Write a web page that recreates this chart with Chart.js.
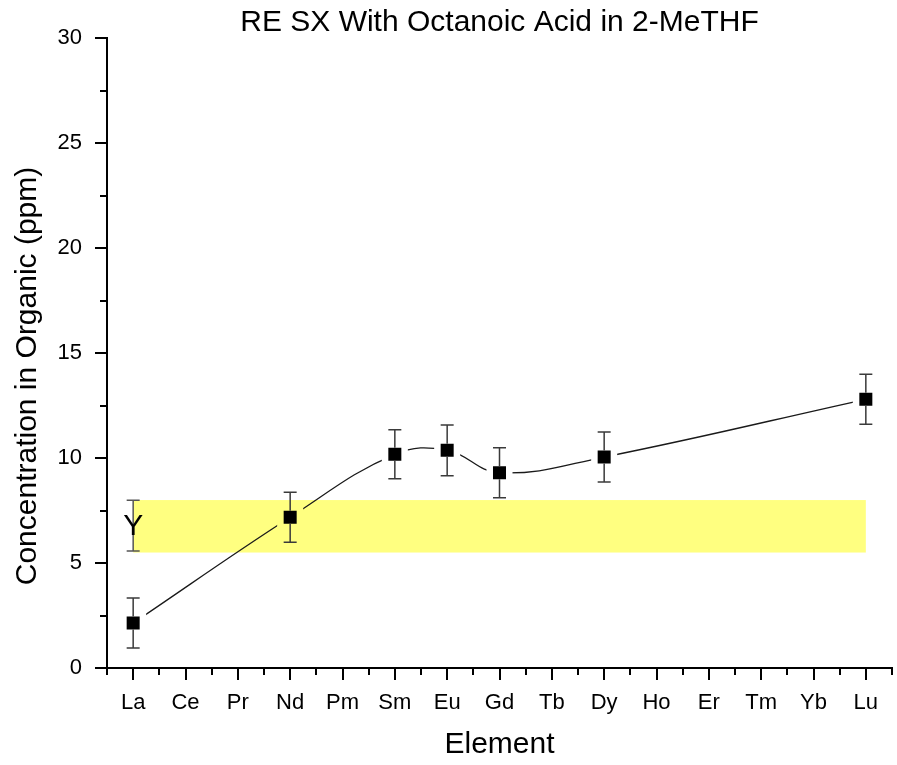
<!DOCTYPE html>
<html>
<head>
<meta charset="utf-8">
<script src="https://cdn.jsdelivr.net/npm/chart.js@4/dist/chart.umd.min.js"></script>
<style>
  html, body { margin: 0; padding: 0; background: #fff; }
  canvas { display: block; }
</style>
</head>
<body>
<canvas id="chart" width="897" height="765"></canvas>
<script>
// Rare-earth elements on the x axis
const elements = ['La', 'Ce', 'Pr', 'Nd', 'Pm', 'Sm', 'Eu', 'Gd', 'Tb', 'Dy', 'Ho', 'Er', 'Tm', 'Yb', 'Lu'];
// Measured concentration in the organic phase (ppm); null = not measured
const concentration = [2.14, null, null, 7.18, null, 10.18, 10.37, 9.30, null, 10.05, null, null, null, null, 12.80];
// Error bar half-heights (ppm)
const concentrationErr = [1.19, null, null, 1.19, null, 1.17, 1.21, 1.19, null, 1.19, null, null, null, null, 1.19];
// Yttrium reference value, shown as a labelled band across the plot
const yttriumLabel = 'Y';
const yttriumValue = 6.78;
const yttriumErr = 1.21;
const yttriumBand = [5.5, 8.0];
// Y axis range and tick spacing
const yMin = 0, yMax = 30, yMajor = 5, yMinor = 2.5;

const FONT = "'Liberation Sans', Arial, Helvetica, sans-serif";
const TITLE = 'RE SX With Octanoic Acid in 2-MeTHF';
const Y_TITLE = 'Concentration in Organic (ppm)';
const BAND_COLOR = '#ffff80';
const MARK_HALF = 6.5;

const inBand = v => v !== null && v > yttriumBand[0] && v < yttriumBand[1];

// Yellow band spanning La..Lu between the yttrium limits
const bandPlugin = {
  id: 'yttriumBand',
  beforeDatasetsDraw(chart) {
    const { ctx, scales: { x, y } } = chart;
    const x0 = x.getPixelForValue(0);
    const x1 = x.getPixelForValue(elements.length - 1);
    const yTop = y.getPixelForValue(yttriumBand[1]);
    const yBot = y.getPixelForValue(yttriumBand[0]);
    ctx.save();
    ctx.fillStyle = BAND_COLOR;
    ctx.fillRect(x0, yTop, x1 - x0, yBot - yTop);
    ctx.restore();
  }
};

function drawErrorBar(ctx, px, top, mid, bot, gap) {
  const cap = 6.5;
  ctx.beginPath();
  ctx.moveTo(px, top); ctx.lineTo(px, mid - gap);
  ctx.moveTo(px, mid + gap); ctx.lineTo(px, bot);
  ctx.moveTo(px - cap, top); ctx.lineTo(px + cap, top);
  ctx.moveTo(px - cap, bot); ctx.lineTo(px + cap, bot);
  ctx.stroke();
}

// Error bars, the Y label and its error bar
const errorPlugin = {
  id: 'errorBars',
  afterDatasetsDraw(chart) {
    const { ctx, scales: { x, y } } = chart;
    ctx.save();
    ctx.strokeStyle = '#3a3a3a';
    ctx.lineWidth = 1.5;
    concentration.forEach((v, i) => {
      if (v === null) return;
      const e = concentrationErr[i];
      const px = x.getPixelForValue(i);
      drawErrorBar(ctx, px, y.getPixelForValue(v + e), y.getPixelForValue(v), y.getPixelForValue(v - e), MARK_HALF);
    });
    // yttrium
    const yi = elements.indexOf('La');
    const ypx = x.getPixelForValue(yi);
    ctx.strokeStyle = '#555';
    drawErrorBar(ctx, ypx, y.getPixelForValue(yttriumValue + yttriumErr), y.getPixelForValue(yttriumValue),
      y.getPixelForValue(yttriumValue - yttriumErr), 0);
    ctx.fillStyle = '#000';
    ctx.font = '30px ' + FONT;
    ctx.textAlign = 'center';
    ctx.textBaseline = 'middle';
    ctx.fillText(yttriumLabel, ypx, y.getPixelForValue(yttriumValue) + 1);
    ctx.restore();
  }
};

// Outward major/minor tick marks and the chart/axis titles
const framePlugin = {
  id: 'frame',
  afterDraw(chart) {
    const { ctx, chartArea: a, scales: { x, y } } = chart;
    ctx.save();
    ctx.strokeStyle = '#000';
    ctx.lineWidth = 2;
    ctx.beginPath();
    for (let v = yMin; v <= yMax + 1e-9; v += yMinor) {
      const py = Math.round(y.getPixelForValue(v));
      const len = Math.abs(v / yMajor - Math.round(v / yMajor)) < 1e-9 ? 12 : 7;
      ctx.moveTo(a.left - len, py); ctx.lineTo(a.left, py);
    }
    for (let i = 0; i < elements.length; i++) {
      const px = Math.round(x.getPixelForValue(i));
      ctx.moveTo(px, a.bottom); ctx.lineTo(px, a.bottom + 12);
    }
    for (let i = 0; i <= elements.length; i++) {
      const px = Math.round(x.getPixelForValue(i - 0.5));
      ctx.moveTo(px, a.bottom); ctx.lineTo(px, a.bottom + 7);
    }
    ctx.stroke();

    ctx.fillStyle = '#000';
    ctx.font = '30px ' + FONT;
    ctx.textAlign = 'center';
    ctx.textBaseline = 'middle';
    ctx.fillText(TITLE, (a.left + a.right) / 2, 23);

    ctx.translate(28, 376);
    ctx.rotate(-Math.PI / 2);
    ctx.fillText(Y_TITLE, 0, 0);
    ctx.restore();
  }
};

new Chart(document.getElementById('chart'), {
  type: 'line',
  data: {
    labels: elements,
    datasets: [
      {
        label: 'curve',
        data: concentration,
        borderColor: '#1a1a1a',
        borderWidth: 1.3,
        tension: 0.4,
        spanGaps: true,
        pointRadius: 0,
        order: 3
      },
      {
        label: 'halo',
        data: concentration,
        showLine: false,
        pointStyle: 'rect',
        pointRadius: 18.4,
        pointBorderWidth: 0,
        pointBackgroundColor: c => inBand(concentration[c.dataIndex]) ? BAND_COLOR : '#ffffff',
        order: 2
      },
      {
        label: 'RE',
        data: concentration,
        showLine: false,
        pointStyle: 'rect',
        pointRadius: 9.2,
        pointBorderWidth: 0,
        pointBackgroundColor: '#000',
        order: 1
      }
    ]
  },
  options: {
    responsive: false,
    animation: false,
    devicePixelRatio: 1,
    events: [],
    layout: { autoPadding: false, padding: { left: 0, right: 5, top: 37, bottom: 0 } },
    plugins: {
      legend: { display: false },
      tooltip: { enabled: false },
      title: { display: false }
    },
    scales: {
      x: {
        type: 'category',
        offset: true,
        grid: { display: false, drawTicks: false },
        border: { display: true, color: '#000', width: 2 },
        ticks: { color: '#000', font: { family: FONT, size: 22 }, padding: 22, autoSkip: false, maxRotation: 0 },
        title: {
          display: true, text: 'Element', color: '#000',
          font: { family: FONT, size: 30, lineHeight: 1 },
          padding: { top: 0, bottom: 5 }
        },
        afterFit(s) { s.height = 97; s.paddingLeft = 0; s.paddingRight = 0; }
      },
      y: {
        min: yMin,
        max: yMax,
        grid: { display: false, drawTicks: false },
        border: { display: true, color: '#000', width: 2 },
        ticks: { stepSize: yMajor, color: '#000', font: { family: FONT, size: 22 }, padding: 25 },
        afterFit(s) { s.width = 107; }
      }
    }
  },
  plugins: [bandPlugin, errorPlugin, framePlugin]
});
</script>
</body>
</html>
